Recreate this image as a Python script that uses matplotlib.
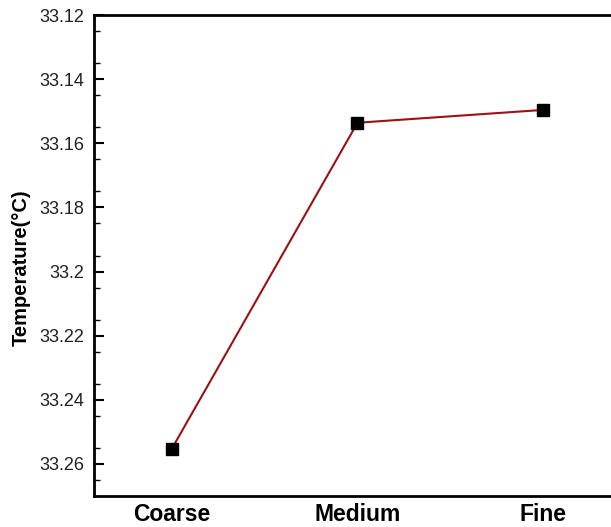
import matplotlib
matplotlib.use("Agg")
import matplotlib.pyplot as plt
import numpy as np
from matplotlib.ticker import FixedLocator

categories = ["Coarse", "Medium", "Fine"]
temperature = [33.2552, 33.1536, 33.1496]
yticks = [33.12, 33.14, 33.16, 33.18, 33.20, 33.22, 33.24, 33.26]
yticklabels = ["33.12", "33.14", "33.16", "33.18", "33.2", "33.22", "33.24", "33.26"]

plt.rcParams['font.family'] = ['Liberation Sans', 'DejaVu Sans']

fig = plt.figure(figsize=(6.11, 5.27), dpi=100)
ax = fig.add_axes([94/611, 1-496/527, (621-94)/611, (496-15)/527])

x = np.arange(len(categories))
ax.plot(x, temperature, color='#9a1212', lw=1.5, marker='s', ms=9,
        markerfacecolor='black', markeredgecolor='black', zorder=3)

ax.set_xlim(-0.42, 2.42)
ax.set_ylim(33.27, 33.12)
ax.set_xticks(x)
ax.set_xticklabels(categories, fontsize=16.5, fontweight='bold')
ax.set_yticks(yticks)
ax.set_yticklabels(yticklabels, fontsize=13, color='#222222')
minor = [v + 0.005 for v in yticks] + [v + 0.015 for v in yticks]
ax.yaxis.set_minor_locator(FixedLocator([m for m in minor if m < 33.27]))
ax.tick_params(axis='y', which='major', direction='in', length=7, width=1.5, pad=7)
ax.tick_params(axis='y', which='minor', direction='in', length=4, width=1)
ax.tick_params(axis='x', length=0, pad=5)
ax.set_ylabel("Temperature(°C)", fontsize=14.5, fontweight='bold')
ax.yaxis.set_label_coords(-0.12, 0.475)
for s in ['left', 'bottom', 'top']:
    ax.spines[s].set_linewidth(2)
ax.spines['right'].set_visible(False)

fig.savefig("out.png", dpi=100)
